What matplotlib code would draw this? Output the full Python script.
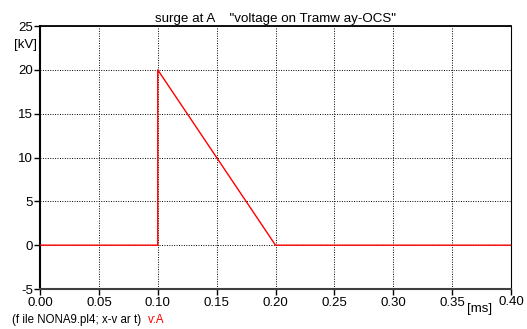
import matplotlib.pyplot as plt
import numpy as np

# surge waveform at node A
t_ms = [0.0, 0.1, 0.1, 0.2, 0.4]
v_kv = [0.0, 0.0, 20.0, 0.0, 0.0]

x_ticks = [0.00, 0.05, 0.10, 0.15, 0.20, 0.25, 0.30, 0.35, 0.40]
y_ticks = [-5, 0, 5, 10, 15, 20, 25]

plt.rcParams['font.family'] = ['Liberation Sans', 'DejaVu Sans']
plt.rcParams['axes.unicode_minus'] = False

fig = plt.figure(figsize=(5.27, 3.29), dpi=100)
ax = fig.add_axes([40/527, 40/329, 471/527, 263/329])

ax.plot(t_ms, v_kv, color='red', lw=1.0, zorder=3)

ax.set_xlim(0, 0.4)
ax.set_ylim(-5, 25)
ax.set_xticks(x_ticks)
ax.set_xticklabels(["%.2f" % v for v in x_ticks[:-1]] + [""])
ax.set_yticks(y_ticks)
ax.tick_params(axis='both', direction='out', length=4, width=1, labelsize=9.5, pad=1, color='black')
ax.tick_params(axis='x', pad=2)
ax.grid(True, color='black', linestyle=(0, (1, 1.5)), lw=0.7)

for side, w, c in [('left', 1.5, 'black'), ('top', 1.3, 'black'),
                   ('bottom', 1.5, '#404040'), ('right', 0.8, 'black')]:
    ax.spines[side].set_linewidth(w)
    ax.spines[side].set_color(c)

ax.set_title('surge at A    "voltage on Tramw ay-OCS"', fontsize=9.6, pad=3)
fig.text(37/527, 1 - 45/329, '[kV]', ha='right', va='center', fontsize=9.5)
fig.text(480/527, 1 - 309/329, '[ms]', ha='center', va='center', fontsize=9.5)
fig.text(511/527, 1 - 302/329, '0.40', ha='center', va='center', fontsize=9.5)
fig.text(12/527, 1 - 320/329, '(f ile NONA9.pl4; x-v ar t)', ha='left', va='center', fontsize=8.3)
fig.text(148/527, 1 - 320/329, 'v:A', ha='left', va='center', fontsize=8.3, color='red')

fig.savefig('out.png', dpi=100)
